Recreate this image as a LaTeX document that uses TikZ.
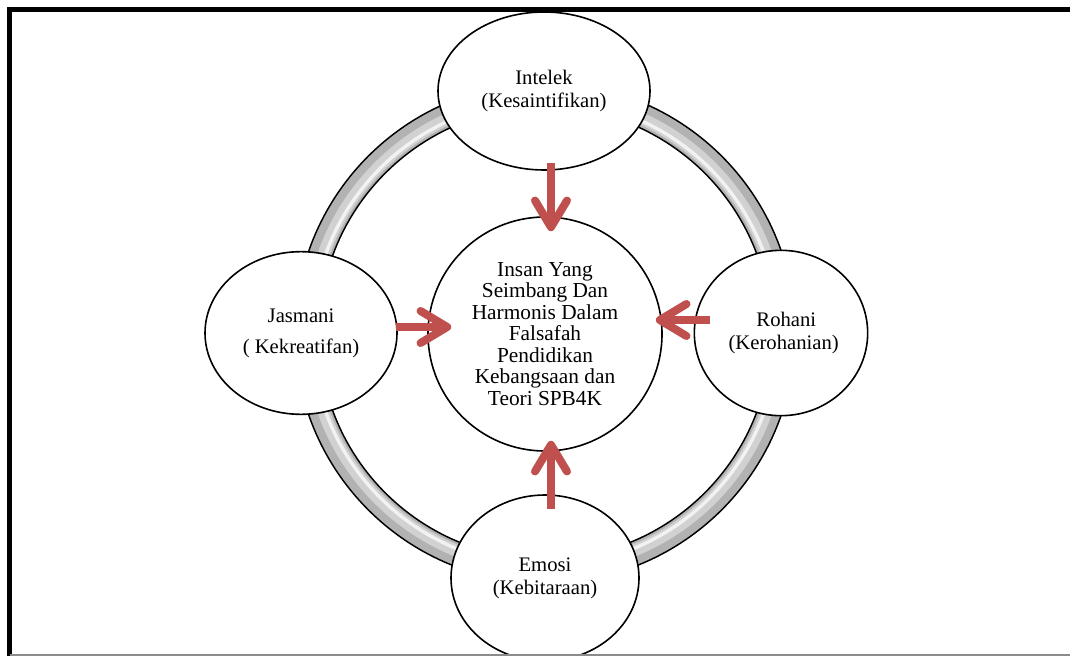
\documentclass[tikz,border=0pt]{standalone}
\usepackage{fontspec}
\setmainfont{Liberation Serif}
\usetikzlibrary{shapes.geometric}
\usetikzlibrary{arrows.meta}
\definecolor{pilred}{HTML}{C0504D}
\colorlet{ringdk}{black!30}
\colorlet{ringmd}{black!18}
\colorlet{ringlt}{black!5}
\tikzset{pxp/.style={
  x=0.75pt,
  y=-0.75pt
}}
\tikzset{blb/.style={
  draw,
  fill=white,
  shape=ellipse,
  line width=1.2pt,
  inner sep=0pt,
  align=center,
  font=\fontsize{15.5}{17.25}\selectfont,
}}
\tikzset{ctr/.style={
  blb,
  shape=circle,
  minimum size=175.5pt,
  font=\fontsize{16}{16.1}\selectfont,
}}
\tikzset{pil/.style={
  draw=pilred,
  line width=6pt,
  -{Straight Barb[length=20pt,width=24pt,round]}
}}

\begin{document}
\begin{tikzpicture}[pxp]
    \useasboundingbox (0,0) rectangle (1070,656);
    % Ring
    \draw[ringdk,line width=18pt] (545,333) circle[radius=238];
    \draw[ringmd,line width=9pt] (545,333) circle[radius=235];
    \draw[ringlt,line width=2.5pt] (545,333) circle[radius=233];
    \draw[line width=1.1pt] (545,333) circle[radius=226];
    \draw[line width=1.1pt] (545,333) circle[radius=250];
    % Nodes
    \node[ctr] (pusat) at (545,334) {Insan Yang\\Seimbang Dan\\Harmonis Dalam\\Falsafah\\Pendidikan\\Kebangsaan dan\\Teori SPB4K};
    \node[blb,minimum width=159pt,minimum height=118.5pt] (intelek) at (544,91) {Intelek\\(Kesaintifikan)};
    \node[blb,minimum width=144pt,minimum height=122pt] (jasmani) at (301,333) {Jasmani\\[6pt]( Kekreatifan)};
    \node[blb,minimum width=130pt,minimum height=124pt] (rohani) at (781,333) {\hspace*{8pt}Rohani\\(Kerohanian)\hspace*{-4pt}};
    \node[blb,minimum width=141pt,minimum height=124.5pt] (emosi) at (545,578) {Emosi\\(Kebitaraan)};
    % Arrows
    \draw[pil] ([xshift=5.25pt,yshift=6pt]intelek.south) -- ([xshift=4.5pt,yshift=-11.25pt]pusat.north);
    \draw[pil] ([xshift=4.5pt,yshift=-11.25pt]emosi.north) -- ([xshift=4.5pt,yshift=8.25pt]pusat.south);
    \draw[pil] ([xshift=-1.5pt,yshift=4.5pt]jasmani.east) -- ([xshift=18pt,yshift=5.25pt]pusat.west);
    \draw[pil] ([xshift=12pt,yshift=9.75pt]rohani.west) -- ([xshift=-5.25pt,yshift=10.5pt]pusat.east);
    % Frame
    \draw[line width=3.2pt] (9.5,656) -- (9.5,9.5) -- (1070,9.5);
    \draw[black!45,line width=0.8pt] (9.5,655) -- (1070,655);
\end{tikzpicture}
\end{document}
